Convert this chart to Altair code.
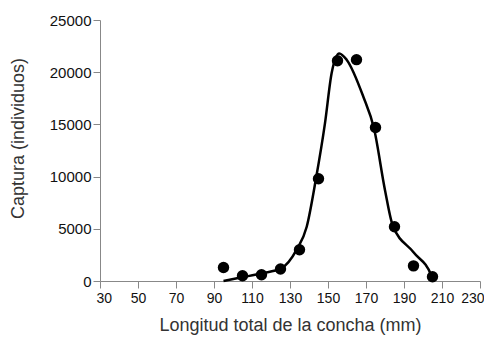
import altair as alt
import pandas as pd

# observed points
obs_x = [95, 105, 115, 125, 135, 145, 155, 165, 175, 185, 195, 205]
obs_y = [1300, 500, 600, 1150, 3000, 9800, 21100, 21200, 14700, 5200, 1450, 400]

# fitted curve
fit_x = [95, 104.7, 115.3, 125.3, 133.5, 138.8, 143.7, 148.4, 151.9, 155.9, 159.8, 168.6, 174.2, 180, 184, 195, 204.6, 205.5]
fit_y = [0, 350, 740, 1200, 3000, 5200, 9840, 15100, 19900, 21800, 21200, 17650, 14625, 8700, 5360, 2750, 450, 0]

x_ticks = list(range(30, 231, 20))
y_ticks = list(range(0, 25001, 5000))

obs = pd.DataFrame({"x": obs_x, "y": obs_y})
fit = pd.DataFrame({"x": fit_x, "y": fit_y})

font = "Liberation Sans"
xscale = alt.Scale(domain=[30, 230], nice=False, zero=False)
yscale = alt.Scale(domain=[0, 25000], nice=False)

common = dict(grid=False, labelFont=font, labelColor="#111", titleFont=font,
              titleFontWeight="normal", titleColor="#333", domainColor="#888",
              tickColor="#888", tickSize=7, labelOverlap=False)

xaxis = alt.Axis(title="Longitud total de la concha (mm)", values=x_ticks, format="d",
                 labelFontSize=14, titleFontSize=18, labelPadding=3, titlePadding=11,
                 labelFlush=True, labelFlushOffset=4, **common)
yaxis = alt.Axis(title="Captura (individuos)", values=y_ticks, format="d",
                 labelFontSize=15, titleFontSize=18, labelPadding=2, titlePadding=22,
                 titleY=118, labelFlush=False, **common)

X = alt.X("x:Q", scale=xscale, axis=xaxis)
Y = alt.Y("y:Q", scale=yscale, axis=yaxis)

line = alt.Chart(fit).mark_line(color="black", strokeWidth=2.5, interpolate="monotone").encode(x=X, y=Y)
pts = alt.Chart(obs).mark_circle(color="black", opacity=1, size=130).encode(x=X, y=Y)

chart = alt.layer(line, pts).properties(
    width=380, height=261,
    autosize=alt.AutoSizeParams(type="none"),
    padding={"left": 92, "top": 12, "right": 4, "bottom": 56},
).configure_view(stroke=None)

chart.save("out.html", embed_options={"renderer": "svg", "actions": False})
